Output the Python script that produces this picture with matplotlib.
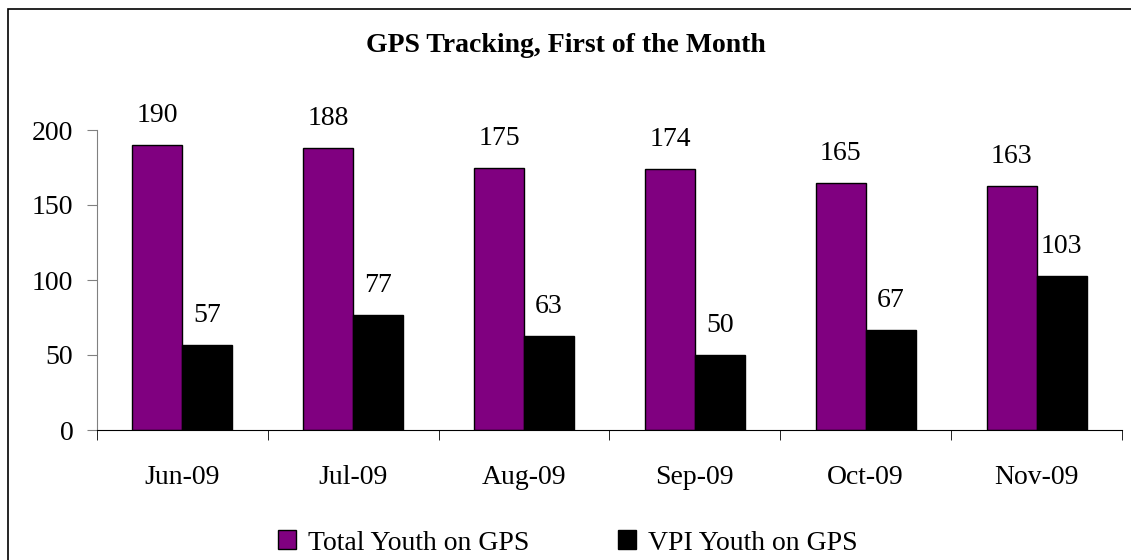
import numpy as np
import matplotlib
matplotlib.use("Agg")
import matplotlib.pyplot as plt
from matplotlib.patches import Rectangle, Patch

months = ["Jun-09", "Jul-09", "Aug-09", "Sep-09", "Oct-09", "Nov-09"]
total_youth = [190, 188, 175, 174, 165, 163]
vpi_youth = [57, 77, 63, 50, 67, 103]

plt.rcParams['font.family'] = ['Liberation Serif', 'DejaVu Serif']

W, H = 1131, 560
fig = plt.figure(figsize=(W / 100, H / 100), dpi=100)
ax = fig.add_axes([97 / W, 1 - 430 / H, (1122 - 97) / W, 300 / H])

# outer chart frame (right and bottom edges run off the picture)
fig.patches.append(Rectangle((8 / W, -0.1), 1.2, 1 - 9 / H + 0.1, transform=fig.transFigure,
                             fill=False, edgecolor='black', linewidth=1.2))

x = np.arange(len(months))
bw = 0.293
purple = '#800080'
b1 = ax.bar(x - bw / 2, total_youth, bw, color=purple, edgecolor='black', linewidth=1.0)
b2 = ax.bar(x + bw / 2, vpi_youth, bw, color='black', edgecolor='black', linewidth=1.0)

for bars, vals in ((b1, total_youth), (b2, vpi_youth)):
    for r, v in zip(bars, vals):
        ax.annotate(str(v), (r.get_x() + r.get_width() / 2, v), xytext=(0, 21),
                    textcoords='offset points', ha='center', va='center', fontsize=20)

ax.set_xlim(-0.5, len(months) - 0.5)
ax.set_ylim(0, 200)
ax.set_yticks([0, 50, 100, 150, 200])
ax.set_xticks(x)
ax.set_xticklabels(months)
ax.set_xticks(np.arange(len(months) + 1) - 0.5, minor=True)
ax.tick_params(axis='x', which='major', length=0, pad=25, labelsize=20)
ax.tick_params(axis='x', which='minor', length=7, direction='out', color='black')
ax.tick_params(axis='y', length=7, direction='out', color='#808080', pad=10, labelsize=20)

for s in ('top', 'right'):
    ax.spines[s].set_visible(False)
ax.spines['left'].set_color('#808080')
ax.spines['bottom'].set_color('black')

fig.text(0.5, 1 - 46 / H, "GPS Tracking, First of the Month", ha='center', va='center',
         fontsize=20, fontweight='bold')

handles = [Patch(facecolor=purple, edgecolor='black', label='Total Youth on GPS'),
           Patch(facecolor='black', edgecolor='black', label='VPI Youth on GPS')]
fig.legend(handles=handles, loc='center', bbox_to_anchor=(0.502, 1 - 543 / H), ncol=2,
           frameon=False, fontsize=20, handlelength=0.65, handleheight=0.65,
           handletextpad=0.43, columnspacing=3.2)

fig.savefig("out.png", dpi=100)
